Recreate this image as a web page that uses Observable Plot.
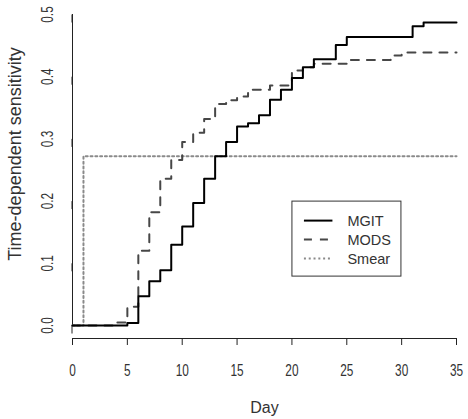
<!DOCTYPE html>
<html>
<head>
<meta charset="utf-8">
<script src="https://cdn.jsdelivr.net/npm/d3@7"></script>
<script src="https://cdn.jsdelivr.net/npm/@observablehq/plot@0.6"></script>
<style>
  html, body { margin: 0; padding: 0; background: #fff; }
  #chart svg { display: block; }
</style>
</head>
<body>
<div id="chart"></div>
<script>
// ---- Data ----
const mgitDays   = [0, 5, 6, 7, 8, 9, 10, 11, 12, 13, 14, 15, 16, 17, 18, 19, 20, 21, 22, 24, 25, 31, 32, 35];
const mgitValues = [0, 0.004, 0.047, 0.071, 0.089, 0.130, 0.159, 0.197, 0.236, 0.272, 0.295, 0.320, 0.325, 0.338, 0.363, 0.379, 0.398, 0.415, 0.428, 0.451, 0.464, 0.481, 0.487, 0.487];

const modsDays   = [0, 4, 5, 6, 7, 8, 9, 10, 11, 12, 13, 14, 15, 16, 18, 20, 21, 22, 25, 29, 30, 35];
const modsValues = [0, 0.005, 0.030, 0.120, 0.182, 0.236, 0.266, 0.295, 0.310, 0.332, 0.356, 0.362, 0.368, 0.379, 0.386, 0.410, 0.415, 0.421, 0.427, 0.434, 0.439, 0.439];

const smearDays   = [0, 1, 35];
const smearValues = [0, 0.272, 0.272];

const seriesNames = ["MGIT", "MODS", "Smear"];
const xTicks = [0, 5, 10, 15, 20, 25, 30, 35];
const yTicks = [0, 0.1, 0.2, 0.3, 0.4, 0.5];
const xLabel = "Day";
const yLabel = "Time-dependent sensitivity";
const legendAnchor = {day: 20, value: 0.2};

// ---- Build tables ----
const toRows = (days, vals) => days.map((d, i) => ({day: d, value: vals[i]}));
const mgit = toRows(mgitDays, mgitValues);
const mods = toRows(modsDays, modsValues);
const smear = toRows(smearDays, smearValues);

const styles = {
  MGIT:  {stroke: "#000000", strokeWidth: 2, strokeDasharray: null},
  MODS:  {stroke: "#474747", strokeWidth: 2, strokeDasharray: "8,8"},
  Smear: {stroke: "#8a8a8a", strokeWidth: 2, strokeDasharray: "2,2.8"}
};

const textFont = "'Liberation Sans', Arial, Helvetica, sans-serif";
const axisColor = "#222";

const chart = Plot.plot({
  width: 468,
  height: 419,
  marginLeft: 72,
  marginRight: 12,
  marginTop: 14,
  marginBottom: 94,
  style: {fontFamily: textFont, background: "#fff", color: axisColor},
  x: {domain: [0, 35]},
  y: {domain: [0, 0.5]},
  marks: [
    // axes
    Plot.ruleY([0], {x1: d3.min(xTicks), x2: d3.max(xTicks), dy: 13, stroke: axisColor, strokeWidth: 1}),
    Plot.ruleX([0], {y1: d3.min(yTicks), y2: d3.max(yTicks), stroke: axisColor, strokeWidth: 1}),
    Plot.axisX({ticks: xTicks, tickSize: 7, dy: 13, tickPadding: 19, tickFormat: d => String(d),
                fontSize: 16, stroke: axisColor, fill: "#333", label: null}),
    Plot.axisY({ticks: yTicks, tickSize: 8, tickPadding: 17, tickFormat: d3.format(".1f"),
                rotate: -90, textAnchor: "middle", lineAnchor: "middle",
                fontSize: 16, stroke: axisColor, fill: "#333", label: null}),
    Plot.text([xLabel], {frameAnchor: "bottom", dy: 82, fontSize: 16, fill: "#333", lineAnchor: "middle"}),
    Plot.text([yLabel], {frameAnchor: "left", dx: -57, dy: -16, rotate: -90, fontSize: 18, fill: "#333", lineAnchor: "middle", textAnchor: "middle"}),
    // series
    Plot.line(smear, {x: "day", y: "value", curve: "step-after", ...styles.Smear}),
    Plot.line(mods,  {x: "day", y: "value", curve: "step-after", ...styles.MODS}),
    Plot.line(mgit,  {x: "day", y: "value", curve: "step-after", ...styles.MGIT})
  ]
});

document.getElementById("chart").appendChild(chart);

const svg = d3.select(chart);
// narrow the tick labels (the reference uses a condensed face)
svg.selectAll('g[aria-label="x-axis tick label"] text, g[aria-label="y-axis tick label"] text')
  .attr("transform", function() { return (this.getAttribute("transform") || "") + " scale(0.74,1)"; });

// ---- Legend (drawn in the SVG at the data anchor) ----
const sx = chart.scale("x"), sy = chart.scale("y");
const lx = sx.apply(legendAnchor.day), ly = sy.apply(legendAnchor.value);
const lg = svg.append("g").attr("transform", `translate(${lx},${ly})`);
lg.append("rect").attr("x", 0.5).attr("y", 0.5).attr("width", 109).attr("height", 75)
  .attr("fill", "#fff").attr("stroke", "#333").attr("stroke-width", 1);
seriesNames.forEach((name, i) => {
  const yy = 20 + i * 19;
  const s = styles[name];
  lg.append("line").attr("x1", 12.5).attr("x2", 41).attr("y1", yy).attr("y2", yy)
    .attr("stroke", s.stroke).attr("stroke-width", s.strokeWidth)
    .attr("stroke-dasharray", s.strokeDasharray);
  lg.append("text").attr("x", 56).attr("y", yy).attr("dy", "0.35em")
    .attr("text-anchor", "start")
    .attr("font-family", textFont).attr("font-size", 14.5).attr("fill", "#333").text(name);
});
</script>
</body>
</html>
